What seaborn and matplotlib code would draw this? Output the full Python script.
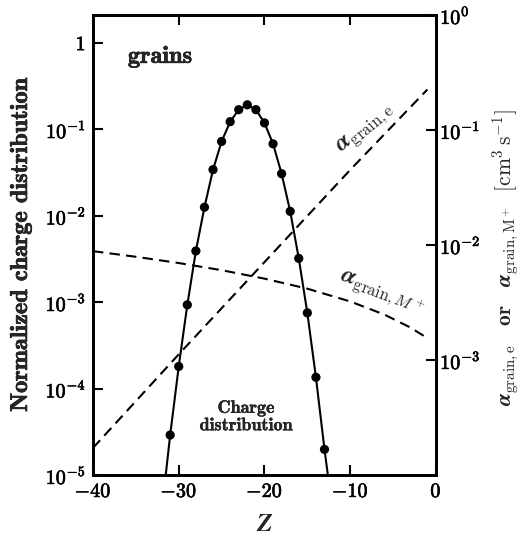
import matplotlib
matplotlib.use("Agg")
import matplotlib.pyplot as plt
import matplotlib.ticker as mticker
import matplotlib.patheffects as pe
import seaborn as sns

# grain charge numbers and normalized charge distribution
charge_Z = [-31, -30, -29, -28, -27, -26, -25, -24, -23, -22,
            -21, -20, -19, -18, -17, -16, -15, -14, -13]
charge_frac = [2.9e-5, 1.8e-4, 9.3e-4, 3.9e-3, 1.25e-2, 3.4e-2, 7.2e-2, 0.122, 0.168, 0.191,
               0.168, 0.118, 0.0676, 0.0305, 0.0112, 3.2e-3, 7.5e-4, 1.35e-4, 1.98e-5]
# smooth curve through the distribution, continuing below the plotted range
curve_Z = [-32] + charge_Z + [-12]
curve_frac = [3.7e-6] + charge_frac + [3.5e-6]

# recombination rate coefficients on grains [cm^3 s^-1]
alpha_e_Z = [-40, -30, -20, -10, -1]
alpha_e = [1.72e-4, 1.12e-3, 7.1e-3, 4.5e-2, 0.225]
alpha_ion_Z = [-40, -35, -30, -25, -20, -15, -10, -6, -3, -1]
alpha_ion = [8.84e-3, 7.9e-3, 6.97e-3, 6.04e-3, 5.1e-3, 4.17e-3, 3.23e-3, 2.48e-3, 1.92e-3, 1.55e-3]

x_ticks = [-40, -30, -20, -10, 0]
x_labels = ["-40", "-30", "-20", "-10", "0"]
left_ticks = [1, 1e-1, 1e-2, 1e-3, 1e-4, 1e-5]
left_labels = ["1", "10^{-1}", "10^{-2}", "10^{-3}", "10^{-4}", "10^{-5}"]
right_ticks = [1, 1e-1, 1e-2, 1e-3]
right_labels = ["10^{0}", "10^{-1}", "10^{-2}", "10^{-3}"]

sns.set_style("white")
plt.rcParams["mathtext.fontset"] = "cm"
plt.rcParams["axes.unicode_minus"] = False

# slightly heavier strokes for the bold Computer Modern text
heavy = [pe.withStroke(linewidth=0.45, foreground="black")]

fig = plt.figure(figsize=(5.26, 5.39), dpi=100)
ax = fig.add_axes([0.1768, 0.1187, 0.652, 0.8535])
ax2 = ax.twinx()

# charge distribution (left axis)
sns.lineplot(x=curve_Z, y=curve_frac, ax=ax, color="black", lw=1.5)
sns.scatterplot(x=charge_Z, y=charge_frac, ax=ax, color="black", s=44,
                edgecolor="none", zorder=3)

# rate coefficients (right axis)
dash = (0, (5, 3))
sns.lineplot(x=alpha_e_Z, y=alpha_e, ax=ax2, color="black", lw=1.5, linestyle=dash)
sns.lineplot(x=alpha_ion_Z, y=alpha_ion, ax=ax2, color="black", lw=1.5, linestyle=dash)

ax.set_yscale("log")
ax2.set_yscale("log")
ax.set_xlim(-40, 0)
ax.set_ylim(1e-5, 2.09)
ax2.set_ylim(1e-4, 1)

ax.set_xticks(x_ticks)
ax.set_xticklabels([r"$\mathbf{%s}$" % t for t in x_labels], fontsize=14.5)
ax.set_yticks(left_ticks)
ax.set_yticklabels([r"$\mathbf{%s}$" % t for t in left_labels], fontsize=14.5)
ax2.set_yticks(right_ticks)
ax2.set_yticklabels([r"$\mathbf{%s}$" % t for t in right_labels], fontsize=14.5)
for lab in ax.get_xticklabels() + ax.get_yticklabels() + ax2.get_yticklabels():
    lab.set_path_effects(heavy)
for a in (ax, ax2):
    a.yaxis.set_minor_locator(mticker.NullLocator())
    for s in a.spines.values():
        s.set_linewidth(2)
        s.set_color("black")
ax.tick_params(axis="both", which="major", direction="in", length=7, width=1.5,
               top=True, bottom=True, left=True, right=False, pad=5, colors="black")
ax2.tick_params(axis="y", which="major", direction="in", length=7, width=1.5,
                right=True, pad=3, colors="black")

ax.set_xlabel(r"$\boldsymbol{Z}$", fontsize=18.5)
ax.xaxis.set_label_coords(0.5, -0.078)
ax.set_ylabel("Normalized charge distribution", fontsize=17.5, family="cmb10",
              path_effects=heavy)
ax.yaxis.set_label_coords(-0.178, 0.5)
ax2.set_ylabel(r"$\boldsymbol{\alpha}_{\rm grain,e}\ \ \ \mathbf{or}\ \ \ "
               r"\boldsymbol{\alpha}_{\rm grain,M^+}\ \ [\rm cm^3\,s^{-1}]$",
               fontsize=15.5, rotation=90)
ax2.yaxis.set_label_coords(1.16, 0.472)

ax.text(0.102, 0.909, "grains", transform=ax.transAxes, fontsize=17.5,
        family="cmb10", ha="left", va="center", path_effects=heavy)
ax.text(0.446, 0.126, "Charge\ndistribution", transform=ax.transAxes, fontsize=13,
        family="cmb10", ha="center", va="center", linespacing=1.2,
        path_effects=[pe.withStroke(linewidth=0.25, foreground="black")])
ax.text(0.793, 0.754, r"$\boldsymbol{\alpha}_{\rm grain,e}$", transform=ax.transAxes,
        fontsize=17, ha="center", va="center", rotation=40)
ax.text(0.843, 0.398, r"$\boldsymbol{\alpha}_{\mathrm{grain},M^+}$", transform=ax.transAxes,
        fontsize=17, ha="center", va="center", rotation=-20)

fig.savefig("out.png", dpi=100)
